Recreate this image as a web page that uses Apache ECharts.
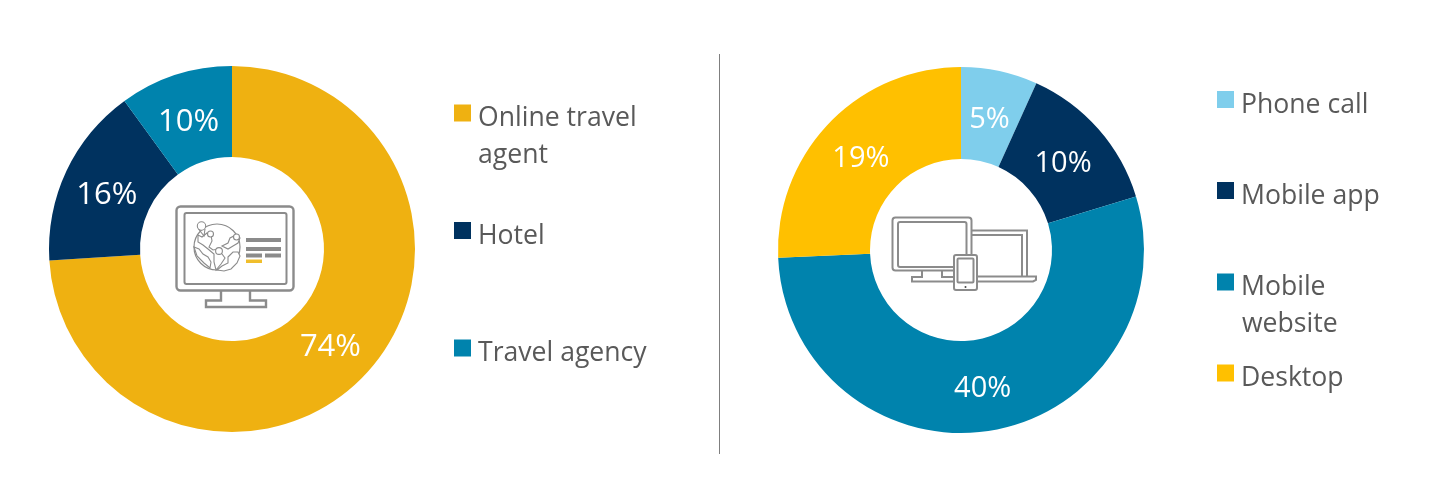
<!DOCTYPE html>
<html>
<head>
<meta charset="utf-8">
<style>html,body{margin:0;padding:0;background:#fff}#c{width:1430px;height:500px}</style>
<script src="https://cdn.jsdelivr.net/npm/echarts@6/dist/echarts.min.js"></script>
</head>
<body>
<div id="c"></div>
<script>
const bookingCategories = ['Online travel agent', 'Hotel', 'Travel agency'];
const bookingValues = [74, 16, 10];
const bookingColors = ['#EFB111', '#00325F', '#0083AD'];
const deviceCategories = ['Phone call', 'Mobile app', 'Mobile website', 'Desktop'];
const deviceValues = [5, 10, 40, 19];
const deviceColors = ['#7FCEEC', '#00325F', '#0083AD', '#FFC000'];

const FONT = '"Open Sans", sans-serif';
const TEXT = '#595959';
const GREY = '#8b8b8b';
const LEG = 26.6;

function pie(center, inner, outer, names, values, colors, size, offsets) {
  return {
    type: 'pie', center: center, radius: [inner, outer], startAngle: 90,
    avoidLabelOverlap: false, silent: true, animation: false,
    itemStyle: {borderWidth: 0},
    label: {position: 'inside', formatter: '{c}%', color: '#fff', fontFamily: FONT, fontSize: size},
    labelLine: {show: false},
    data: names.map((n, i) => ({name: n, value: values[i], itemStyle: {color: colors[i]}, label: {offset: offsets[i]}}))
  };
}
function legendItem(name, first, left, cy) {
  return {
    data: [name], left: left, top: cy - 10.5, orient: 'vertical', padding: 0,
    icon: 'rect', itemWidth: 17, itemHeight: 17, selectedMode: false,
    formatter: () => '{t|' + first + '}{s| }',
    textStyle: {
      fontFamily: FONT, fontSize: LEG, color: TEXT,
      rich: {
        t: {fontFamily: FONT, fontSize: LEG, color: TEXT, lineHeight: 36, verticalAlign: 'bottom', padding: [0, 0, 0, 2]},
        s: {fontSize: 1, lineHeight: 38, width: 1}
      }
    }
  };
}
function contText(t, x, cy) {
  return {type: 'text', left: x, top: cy - 16, silent: true,
    style: {text: t, fill: TEXT, fontFamily: FONT, fontSize: LEG, lineHeight: 36}};
}
const ln = {stroke: GREY, lineWidth: 2.4, fill: null};
const ln2 = {stroke: GREY, lineWidth: 2, fill: null};
function box(x, y, w, h, r, st) {
  return {type: 'rect', shape: {x, y, width: w, height: h, r}, style: st || ln2, silent: true};
}
function bar(x, y, w, h, c) {
  return {type: 'rect', shape: {x, y, width: w, height: h}, style: {fill: c || GREY}, silent: true};
}
function pl(points, st) {
  return {type: 'polyline', shape: {points}, style: st || ln2, silent: true};
}
const land = {stroke: GREY, lineWidth: 1.1, fill: '#fff'};
const globeShapes = [
  [[194,247],[199,249],[203,254],[208,257],[211,262],[210,268],[204,263],[197,256]],
  [[198,235],[202,237],[207,233],[211,235],[212,241],[209,247],[213,250],[218,249],[222,254],[225,258],[221,264],[216,270],[214,262],[214,254],[208,249],[203,245],[198,242]],
  [[222,246],[228,243],[230,238],[236,235],[240,238],[238,243],[233,246],[228,249]],
  [[228,257],[233,252],[238,252],[240,256],[237,263],[231,269],[224,271],[217,270],[222,266],[228,263]]
];
const pinCircles = [[201.5,226,4.2],[210.5,234,3],[236.5,237,3],[219,251,3.4]];
const travelIcon = [
  box(176.5, 206.5, 117, 84, 4, ln),
  box(184.5, 213, 102, 71, 2),
  pl([[221,291],[221,300.5],[206,300.5],[206,307],[266,307],[266,300.5],[250,300.5],[250,291]], ln),
  {type: 'circle', shape: {cx: 217, cy: 247, r: 23}, style: {stroke: GREY, lineWidth: 1.2, fill: null}, silent: true},
  ...globeShapes.map(p => ({type: 'polygon', shape: {points: p}, style: land, silent: true})),
  ...pinCircles.map(c => ({type: 'circle', shape: {cx: c[0], cy: c[1], r: c[2]}, style: land, silent: true})),
  pl([[198.5,229],[204,236],[205,229]], {stroke: GREY, lineWidth: 1.1, fill: null}),
  bar(246, 238, 35, 4), bar(246, 247, 35, 4), bar(246, 253.5, 16, 4), bar(265, 253.5, 16, 4),
  bar(246, 259.5, 16, 3.5, '#F0BE2C')
];
const deviceIcon = [
  pl([[972,230.5],[1027,230.5],[1027,276]]),
  pl([[972,235],[1022,235],[1022,276]]),
  pl([[977,276.5],[1036,276.5],[1036,280],[1033,281.5],[977,281.5]]),
  box(892.5, 217.5, 79, 53, 3),
  box(898, 222, 68.5, 45, 2),
  pl([[922,271],[922,277],[912,277],[912,281.5],[954,281.5]]),
  pl([[942,271],[942,277],[954,277]]),
  {type: 'rect', shape: {x: 954, y: 255, width: 23, height: 35, r: 2}, style: {stroke: GREY, lineWidth: 2, fill: '#fff'}, silent: true},
  box(957.5, 258.5, 16, 24, 1),
  {type: 'circle', shape: {cx: 965.5, cy: 287, r: 1}, style: {fill: '#444'}, silent: true},
  {type: 'line', shape: {x1: 719.5, y1: 54, x2: 719.5, y2: 454}, style: {stroke: '#7f7f7f', lineWidth: 1}, silent: true}
];

const chart = echarts.init(document.getElementById('c'), null, {renderer: 'canvas'});
chart.setOption({
  animation: false,
  backgroundColor: '#fff',
  tooltip: {show: false},
  legend: [
    legendItem('Online travel agent', 'Online travel', 454, 115),
    legendItem('Hotel', 'Hotel', 454, 232.5),
    legendItem('Travel agency', 'Travel agency', 454, 350),
    legendItem('Phone call', 'Phone call', 1217, 101.5),
    legendItem('Mobile app', 'Mobile app', 1217, 192.5),
    legendItem('Mobile website', 'Mobile', 1217, 284),
    legendItem('Desktop', 'Desktop', 1217, 375)
  ],
  series: [
    pie([232, 249], 92, 183, bookingCategories, bookingValues, bookingColors, 31, [[-4, 2], [2, 6], [0, 7]]),
    pie([961, 250], 91, 183, deviceCategories, deviceValues, deviceColors, 29, [[-1, 7], [-3, 6], [-2, 1], [1, 6]])
  ],
  graphic: [
    contText('agent', 478, 153),
    contText('website', 1242, 322),
    ...travelIcon,
    ...deviceIcon
  ]
});
</script>
</body>
</html>
